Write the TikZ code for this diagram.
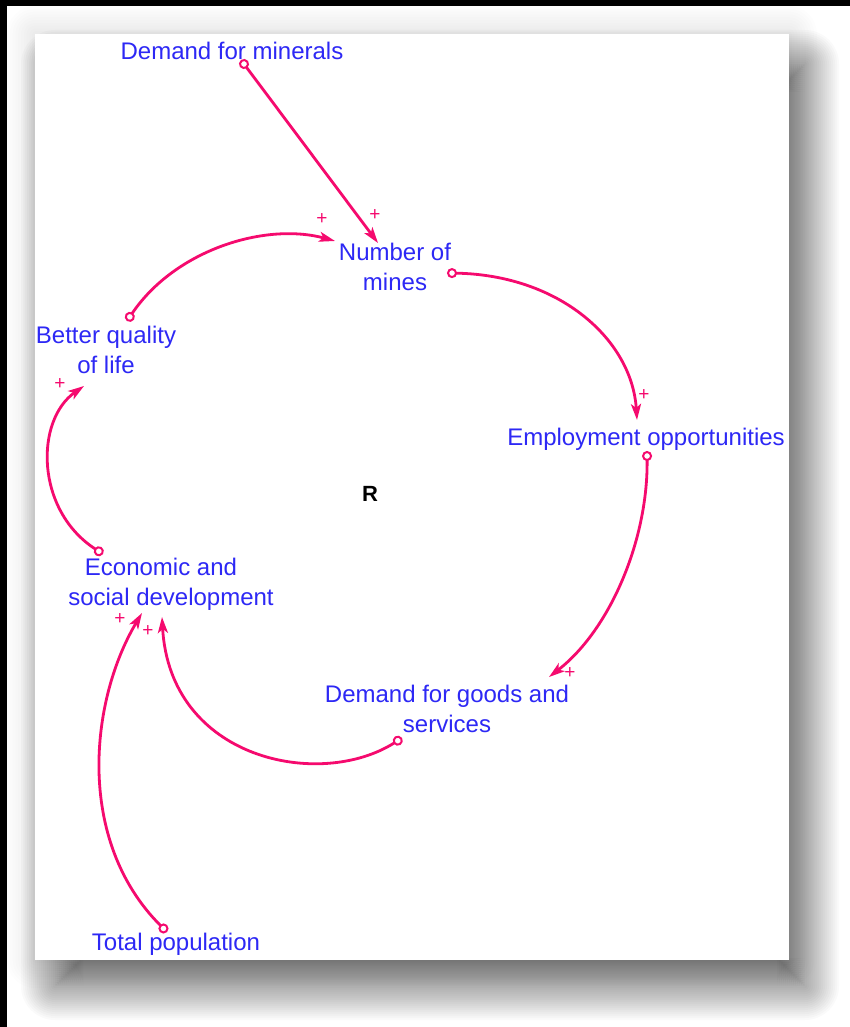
\documentclass[tikz,border=0pt]{standalone}
\usepackage{fontspec}
\setmainfont{Liberation Sans}
\usetikzlibrary{arrows.meta}
\definecolor{linkpink}{RGB}{245,10,110}
\definecolor{varblue}{RGB}{45,40,245}
\begin{document}
\begin{tikzpicture}[x=1pt,y=-1pt,
  var/.style={text=varblue, font=\fontsize{24}{30}\selectfont, align=center, inner sep=0pt, anchor=base},
  link/.style={draw=linkpink, line width=2.8pt,
    {Circle[open,length=10pt,width=10pt,line width=2pt]}-{Stealth[length=16pt,width=10pt,inset=4pt]}},
  pol/.style={text=linkpink, font=\fontsize{19}{19}\selectfont, inner sep=0pt}]
\useasboundingbox (0,0) rectangle (850,1027);
\fill[white] (0,0) rectangle (850,1027);
% faint halo around the sheet
\foreach \i in {0,...,9} {
  \fill[black, opacity=0.008, rounded corners=28pt-2.8pt*\i]
    (35-28+2.8*\i, 34-28+2.8*\i) rectangle (789+28-2.8*\i, 960+28-2.8*\i);
}
% soft drop shadow, offset down and right
\foreach \i in {0,...,31} {
  \fill[black, opacity=0.018, rounded corners=34pt-2pt*\i]
    (53-32+2*\i, 62-32+2*\i) rectangle (807+32-2*\i, 988+32-2*\i);
}
% the sheet
\fill[white] (35,34) rectangle (789,960);
% page frame
\fill[black] (0,0) rectangle (850,6);
\fill[black] (0,0) rectangle (7,1027);

% variables (base = baseline of the last line)
\node[var] (minerals) at (232,60) {Demand for minerals};
\node[var] (mines) at (395,290) {Number of\\mines};
\node[var] (quality) at (106,373) {Better quality\\of life};
\node[var] (jobs) at (646,445) {Employment opportunities};
\node[var] (econ) at (171,605) {Economic and\hspace*{20pt}\\social development};
\node[var] (goods) at (447,732) {Demand for goods and\\services};
\node[var] (pop) at (176,950) {Total population};
\node[font=\bfseries\fontsize{22}{22}\selectfont, inner sep=0pt, anchor=base] (loop) at (370,501) {R};

% link end points
\coordinate (minerals-out) at (241,60);
\coordinate (mines-in1) at (378,243);
\coordinate (mines-out) at (447,273);
\coordinate (jobs-in) at (637,420);
\coordinate (jobs-out) at (647,451);
\coordinate (goods-in) at (549,677);
\coordinate (goods-out) at (402,738);
\coordinate (econ-in1) at (162,617);
\coordinate (pop-out) at (167,932);
\coordinate (econ-in2) at (142,613);
\coordinate (econ-out) at (103,554);
\coordinate (quality-in) at (84,386);
\coordinate (quality-out) at (127,321);
\coordinate (mines-in2) at (335,241);

% causal links
\draw[link] (minerals-out) -- (mines-in1);
\draw[link] (mines-out) .. controls (560,275) and (632,340) .. (jobs-in);
\draw[link] (jobs-out) .. controls (648,540) and (610,630) .. (goods-in);
\draw[link] (goods-out) .. controls (320,790) and (170,760) .. (econ-in1);
\draw[link] (pop-out) .. controls (75,840) and (90,700) .. (econ-in2);
\draw[link] (econ-out) .. controls (35,510) and (35,420) .. (quality-in);
\draw[link] (quality-out) .. controls (175,250) and (265,222) .. (mines-in2);

% link polarities
\node[pol] (p1) at (375,215) {+};
\node[pol] (p2) at (322,219) {+};
\node[pol] (p3) at (644,395) {+};
\node[pol] (p4) at (570,673) {+};
\node[pol] (p5) at (148,631) {+};
\node[pol] (p6) at (120,619) {+};
\node[pol] (p7) at (60,384) {+};
\end{tikzpicture}
\end{document}
